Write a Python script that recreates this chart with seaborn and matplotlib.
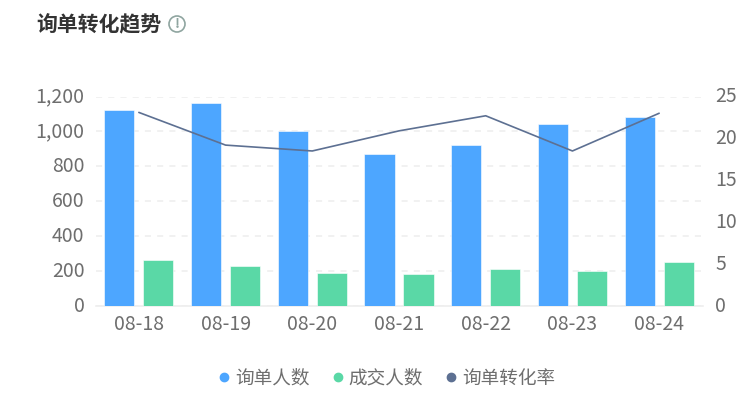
import matplotlib
matplotlib.use("Agg")
import pandas as pd
import matplotlib.pyplot as plt
import seaborn as sns
from matplotlib.lines import Line2D
from matplotlib.patches import Circle
from matplotlib.transforms import ScaledTranslation

dates = ["08-18", "08-19", "08-20", "08-21", "08-22", "08-23", "08-24"]
inquiries = [1120, 1165, 1000, 868, 920, 1040, 1080]
deals = [262, 228, 188, 186, 212, 198, 250]
rate = [23.1, 19.2, 18.5, 20.9, 22.7, 18.5, 23.0]
left_ticks = [0, 200, 400, 600, 800, 1000, 1200]
right_ticks = [0, 5, 10, 15, 20, 25]

BLUE = "#4DA6FF"
GREEN = "#5AD8A6"
SLATE = "#5D7092"
TEXT = "#6E6E6E"
GRID = "#EEEEEE"

sns.set_style("white")
plt.rcParams["font.family"] = ["Noto Sans CJK SC", "DejaVu Sans"]

W, H = 756, 396
fig = plt.figure(figsize=(W / 100, H / 100), dpi=100)
ax = fig.add_axes([95.5 / W, 1 - 306 / H, 607 / W, 209.5 / H])

df_bar = pd.DataFrame({
    "date": dates * 2,
    "count": inquiries + deals,
    "kind": ["询单人数"] * 7 + ["成交人数"] * 7,
})
sns.barplot(data=df_bar, x="date", y="count", hue="kind", ax=ax,
            palette=[BLUE, GREEN], width=0.9, gap=0.23, saturation=1,
            legend=False, zorder=3)
for bar in ax.patches:
    bar.set_edgecolor("#FFFFFF")
    bar.set_linewidth(0.4)

ax.set_xlim(-0.5, 6.5)
ax.set_ylim(0, 1200)
ax.set_yticks(left_ticks)
ax.set_yticklabels([f"{v:,}" for v in left_ticks])
ax.set_xlabel("")
ax.set_ylabel("")
ax.grid(axis="y", color=GRID, linestyle=(0, (4, 4)), linewidth=1.1)
ax.set_axisbelow(True)
ax.tick_params(axis="both", length=0, labelsize=14, labelcolor=TEXT)
ax.tick_params(axis="x", pad=6)
ax.tick_params(axis="y", pad=8)
sns.despine(ax=ax, left=True, right=True, top=True)
ax.spines["bottom"].set_color(GRID)
ax.spines["bottom"].set_linewidth(1.2)

ax2 = ax.twinx()
df_line = pd.DataFrame({"date": dates, "rate": rate})
sns.lineplot(data=df_line, x="date", y="rate", ax=ax2, color=SLATE, linewidth=1.2, zorder=5)
ax2.set_ylim(0, 25)
ax2.set_yticks(right_ticks)
ax2.set_xlabel("")
ax2.set_ylabel("")
ax2.tick_params(axis="y", length=0, labelsize=14, labelcolor=TEXT, pad=9)
sns.despine(ax=ax2, left=True, right=True, top=True, bottom=True)

# y labels sit a touch above their grid lines in the original
up = ScaledTranslation(0, 2.5 / 100, fig.dpi_scale_trans)
for lab in ax.get_yticklabels() + ax2.get_yticklabels():
    lab.set_transform(lab.get_transform() + up)

fig.text(36 / W, 1 - 25 / H, "询单转化趋势", fontsize=15, fontweight="bold",
         color="#333333", va="center", ha="left")

# little info icon next to the title
ax_icon = fig.add_axes([0, 0, 1, 1], facecolor="none")
ax_icon.set_xlim(0, W)
ax_icon.set_ylim(H, 0)
ax_icon.axis("off")
ax_icon.add_patch(Circle((177, 24), 8, fill=False, edgecolor="#8FA5A0", linewidth=1.2))
ax_icon.text(177, 24, "!", fontsize=10, fontweight="bold", color="#8FA5A0",
             ha="center", va="center")

handles = [Line2D([], [], linestyle="none", marker="o", markersize=6, color=c)
           for c in [BLUE, GREEN, SLATE]]
fig.legend(handles, ["询单人数", "成交人数", "询单转化率"], loc="center",
           bbox_to_anchor=(385 / W, 1 - 378.5 / H), ncol=3, frameon=False,
           fontsize=13.4, labelcolor=TEXT, handletextpad=0.1, columnspacing=1.0,
           handlelength=1.0)

fig.savefig("out.png", dpi=100)
